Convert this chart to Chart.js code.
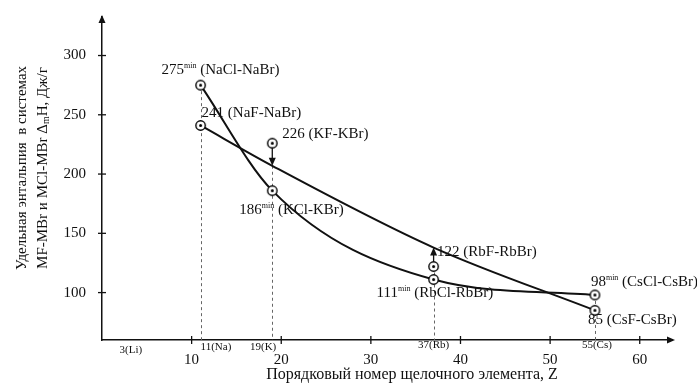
<!DOCTYPE html>
<html lang="ru">
<head>
  <meta charset="UTF-8">
  <title>Удельная энтальпия</title>
  <script src="https://cdn.jsdelivr.net/npm/chart.js"></script>
  <style>
    body { margin: 0; background: #fff; }
    #wrap { width: 697px; height: 383px; }
  </style>
</head>
<body>
  <div id="wrap"><canvas id="chart"></canvas></div>

  <script>
    // values
    const zTicks = [10, 20, 30, 40, 50, 60];
    const yTicks = [100, 150, 200, 250, 300];
    const elementZ = [11, 19, 37, 55];
    const elementTags = ['11(Na)', '19(K)', '37(Rb)', '55(Cs)'];
    const liZ = 3;
    const liTag = '3(Li)';

    const clValues = [275, 186, 111, 98];
    const clSystems = ['NaCl-NaBr', 'KCl-KBr', 'RbCl-RbBr', 'CsCl-CsBr'];
    const fValues = [241, 226, 122, 85];
    const fSystems = ['NaF-NaBr', 'KF-KBr', 'RbF-RbBr', 'CsF-CsBr'];
    const fCurve = [241, 207, 138, 85];   // smoothed MF-MBr line

    // label layout (pixels relative to the marker)
    const clLabelOffsets = [[-39, -11], [-33, 23], [-57, 17], [-4, -9]];
    const fLabelOffsets = [[1, -8], [10, -5], [3.5, -10.5], [-7, 14]];
    const tagAlign = ['left', 'right', 'center', 'center'];
    const tagDx = [0, 4, 0, 2];
    const tagBaseline = [350, 350, 348, 348];

    const SERIF = '"Liberation Serif", "DejaVu Serif", serif';
    const INK = '#111';

    // circle-with-dot marker
    const marker = document.createElement('canvas');
    marker.width = 13; marker.height = 13;
    (function () {
      const c = marker.getContext('2d');
      c.fillStyle = '#fff';
      c.strokeStyle = '#000';
      c.lineWidth = 1.4;
      c.beginPath(); c.arc(6.5, 6.5, 4.7, 0, Math.PI * 2); c.fill(); c.stroke();
      c.fillStyle = '#000';
      c.beginPath(); c.arc(6.5, 6.5, 1.5, 0, Math.PI * 2); c.fill();
    })();

    const pts = (xs, ys) => xs.map((x, i) => ({ x: x, y: ys[i] }));

    function arrowHead(ctx, x, y, dir) {
      ctx.beginPath();
      ctx.moveTo(x, y);
      ctx.lineTo(x - 3.5, y - dir * 8);
      ctx.lineTo(x + 3.5, y - dir * 8);
      ctx.closePath();
      ctx.fill();
    }

    function drawLabel(ctx, x, y, value, sup, rest) {
      ctx.font = '15px ' + SERIF;
      ctx.textAlign = 'left';
      ctx.textBaseline = 'alphabetic';
      ctx.fillText(value, x, y);
      x += ctx.measureText(value).width;
      if (sup) {
        ctx.font = '8px ' + SERIF;
        ctx.fillText(sup, x, y - 6);
        x += ctx.measureText(sup).width;
        ctx.font = '15px ' + SERIF;
      }
      ctx.fillText(rest, x, y);
    }

    const decor = {
      id: 'decor',
      beforeDatasetsDraw(chart) {
        const ctx = chart.ctx, xs = chart.scales.x, ys = chart.scales.y;
        const bottom = chart.chartArea.bottom;
        ctx.save();
        ctx.strokeStyle = '#666';
        ctx.lineWidth = 1;
        ctx.setLineDash([3, 3]);
        elementZ.forEach((z, i) => {
          const top = Math.max(clValues[i], Math.min(fCurve[i], fValues[i]));
          const px = Math.round(xs.getPixelForValue(z)) + 0.5;
          ctx.beginPath();
          ctx.moveTo(px, ys.getPixelForValue(top));
          ctx.lineTo(px, bottom);
          ctx.stroke();
        });
        ctx.restore();
      },
      afterDatasetsDraw(chart) {
        const ctx = chart.ctx, xs = chart.scales.x, ys = chart.scales.y;
        const a = chart.chartArea;
        ctx.save();
        ctx.fillStyle = INK;
        ctx.strokeStyle = INK;

        // axis arrows
        arrowHead(ctx, a.left, a.top - 2, -1);
        ctx.beginPath();
        ctx.moveTo(a.right + 3, a.bottom);
        ctx.lineTo(a.right - 5, a.bottom - 3.5);
        ctx.lineTo(a.right - 5, a.bottom + 3.5);
        ctx.closePath();
        ctx.fill();

        // ticks crossing the axes
        ctx.lineWidth = 1.3;
        zTicks.forEach(v => {
          const px = xs.getPixelForValue(v);
          ctx.beginPath(); ctx.moveTo(px, a.bottom - 4); ctx.lineTo(px, a.bottom + 4); ctx.stroke();
        });
        yTicks.forEach(v => {
          const py = ys.getPixelForValue(v);
          ctx.beginPath(); ctx.moveTo(a.left - 4, py); ctx.lineTo(a.left + 4, py); ctx.stroke();
        });

        // arrows from measured MF-MBr points to the smoothed line
        ctx.lineWidth = 1.3;
        elementZ.forEach((z, i) => {
          if (fValues[i] === fCurve[i]) return;
          const px = xs.getPixelForValue(z);
          const y0 = ys.getPixelForValue(fValues[i]);
          const y1 = ys.getPixelForValue(fCurve[i]);
          const dir = y1 > y0 ? 1 : -1;
          ctx.beginPath();
          ctx.moveTo(px, y0 + dir * 4.5);
          ctx.lineTo(px, y1 - dir * 6);
          ctx.stroke();
          arrowHead(ctx, px, y1, dir);
        });

        // point labels
        elementZ.forEach((z, i) => {
          const px = xs.getPixelForValue(z);
          let py = ys.getPixelForValue(clValues[i]);
          drawLabel(ctx, px + clLabelOffsets[i][0], py + clLabelOffsets[i][1],
            String(clValues[i]), 'min', ' (' + clSystems[i] + ')');
          py = ys.getPixelForValue(fValues[i]);
          drawLabel(ctx, px + fLabelOffsets[i][0], py + fLabelOffsets[i][1],
            String(fValues[i]), '', ' (' + fSystems[i] + ')');
        });

        // element tags under the axis
        ctx.font = '11px ' + SERIF;
        ctx.textBaseline = 'alphabetic';
        ctx.textAlign = 'center';
        ctx.fillText(liTag, xs.getPixelForValue(liZ) + 2, 353);
        elementZ.forEach((z, i) => {
          ctx.textAlign = tagAlign[i];
          ctx.fillText(elementTags[i], xs.getPixelForValue(z) + tagDx[i], tagBaseline[i]);
        });

        // axis titles
        ctx.font = '16px ' + SERIF;
        ctx.textAlign = 'center';
        ctx.fillText('Порядковый номер щелочного элемента, Z', 412, 379);

        ctx.translate(0, 168);
        ctx.rotate(-Math.PI / 2);
        ctx.font = '15px ' + SERIF;
        ctx.fillText('Удельная энтальпия  в системах', 0, 26);
        // second line with subscript m
        const p1 = 'MF-MBr и MCl-MBr Δ', p2 = 'm', p3 = 'H, Дж/г';
        const w1 = ctx.measureText(p1).width, w3 = ctx.measureText(p3).width;
        ctx.font = '10px ' + SERIF;
        const w2 = ctx.measureText(p2).width;
        let x = -(w1 + w2 + w3) / 2;
        ctx.textAlign = 'left';
        ctx.font = '15px ' + SERIF;
        ctx.fillText(p1, x, 47); x += w1;
        ctx.font = '10px ' + SERIF;
        ctx.fillText(p2, x, 49); x += w2;
        ctx.font = '15px ' + SERIF;
        ctx.fillText(p3, x, 47);
        ctx.restore();
      }
    };

    new Chart(document.getElementById('chart'), {
      type: 'line',
      data: {
        datasets: [
          {
            label: 'MCl-MBr',
            data: pts(elementZ, clValues),
            borderColor: INK,
            borderWidth: 2,
            cubicInterpolationMode: 'monotone',
            pointStyle: marker,
            order: 2
          },
          {
            label: 'MF-MBr',
            data: pts(elementZ, fCurve),
            borderColor: INK,
            borderWidth: 2,
            cubicInterpolationMode: 'monotone',
            pointRadius: 0,
            order: 3
          },
          {
            label: 'MF-MBr measured',
            data: pts(elementZ, fValues),
            showLine: false,
            pointStyle: marker,
            order: 1
          }
        ]
      },
      options: {
        responsive: true,
        maintainAspectRatio: false,
        animation: false,
        layout: { padding: { top: 13, right: 25, left: 0, bottom: 0 } },
        plugins: { legend: { display: false }, tooltip: { enabled: false } },
        scales: {
          x: {
            type: 'linear',
            min: 0,
            max: 63.6,
            grid: { display: false },
            border: { color: INK, width: 1.5 },
            afterBuildTicks: s => { s.ticks = zTicks.map(v => ({ value: v })); },
            afterFit: s => { s.height = 43; },
            ticks: { color: INK, font: { family: SERIF, size: 15 }, padding: 3, maxRotation: 0 }
          },
          y: {
            min: 60,
            max: 332.5,
            grid: { display: false },
            border: { color: INK, width: 1.5 },
            afterBuildTicks: s => { s.ticks = yTicks.map(v => ({ value: v })); },
            afterFit: s => { s.width = 102; },
            ticks: { color: INK, font: { family: SERIF, size: 15 }, padding: 8 }
          }
        }
      },
      plugins: [decor]
    });
  </script>
</body>
</html>
